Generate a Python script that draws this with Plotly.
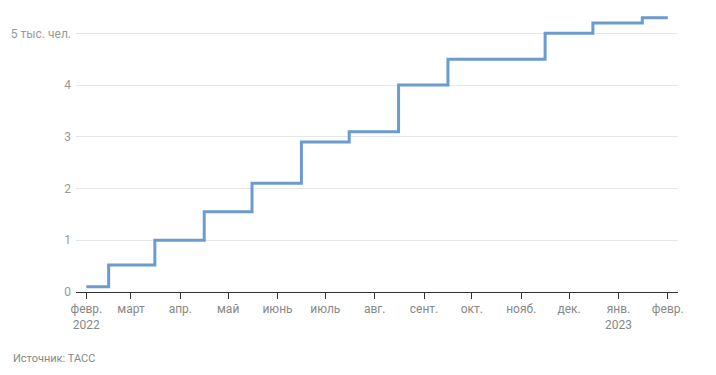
import plotly.graph_objects as go

dates = ["2022-02-01", "2022-02-15", "2022-03-16", "2022-04-16", "2022-05-16",
         "2022-06-16", "2022-07-16", "2022-08-16", "2022-09-16", "2022-10-16",
         "2022-11-16", "2022-12-16", "2023-01-16", "2023-02-01"]
values = [0.1, 0.52, 1.0, 1.55, 2.1, 2.9, 3.1, 4.0, 4.5, 4.5, 5.0, 5.2, 5.3, 5.3]

x_tickvals = ["2022-02-01", "2022-03-01", "2022-04-01", "2022-05-01", "2022-06-01",
              "2022-07-01", "2022-08-01", "2022-09-01", "2022-10-01", "2022-11-01",
              "2022-12-01", "2023-01-01", "2023-02-01"]
x_ticktext = ["февр.<br>2022", "март", "апр.", "май", "июнь", "июль", "авг.",
              "сент.", "окт.", "нояб.", "дек.", "янв.<br>2023", "февр."]
y_tickvals = [0, 1, 2, 3, 4, 5]
y_ticktext = ["0", "1", "2", "3", "4", "5 тыс. чел."]
source = "Источник: ТАСС"

L, R, T, B = 68, 46, 0, 91.3
PW, PH = 716 - L - R, 375 - T - B

fig = go.Figure()
fig.add_trace(go.Scatter(x=dates, y=values, mode="lines", line_shape="hv",
                         line=dict(color="#6b9bcf", width=3), hoverinfo="x+y",
                         cliponaxis=False))

fig.update_layout(
    width=716, height=375,
    margin=dict(l=L, r=R, t=T, b=B, pad=0),
    paper_bgcolor="white", plot_bgcolor="white",
    font=dict(family="Roboto, Arial, sans-serif", size=12, color="#888"),
    showlegend=False,
    xaxis=dict(range=["2022-01-25 12:00", "2023-02-07 10:00"],
               tickvals=x_tickvals, ticktext=x_ticktext,
               showgrid=False, zeroline=False,
               showline=True, linecolor="#333", linewidth=1,
               ticks="outside", ticklen=6, tickcolor="#333", tickwidth=1,
               tickfont=dict(color="#888", size=12)),
    yaxis=dict(range=[0, 5.49], tickvals=y_tickvals, ticktext=y_ticktext,
               showgrid=True, gridcolor="#e6e6e6", gridwidth=1,
               zeroline=False, showline=False, ticks="",
               ticklabelstandoff=4,
               tickfont=dict(color="#999", size=12)),
)
fig.add_annotation(text=source, xref="paper", yref="paper",
                   x=(2.5 - L) / PW, y=(283.7 - 350) / PH, xanchor="left", yanchor="middle",
                   showarrow=False, font=dict(size=11, color="#888"))

fig.write_html("out.html")
